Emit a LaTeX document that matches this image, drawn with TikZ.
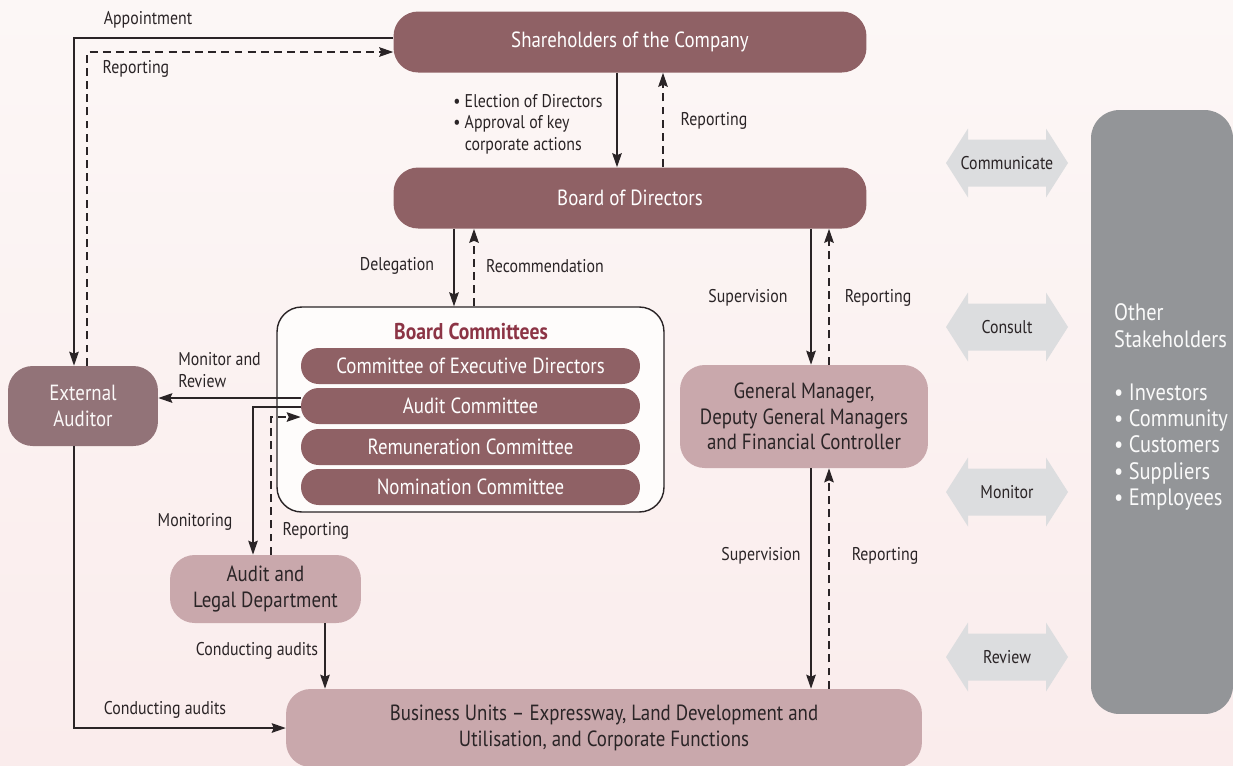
\documentclass[tikz,border=0pt]{standalone}
\usepackage{fontspec}
\setmainfont{PT Sans}[FakeStretch=0.86]
\usetikzlibrary{arrows.meta}
\definecolor{maroon}{HTML}{8F6165}
\definecolor{auditor}{HTML}{927378}
\definecolor{rose}{HTML}{C9A8AC}
\definecolor{ink}{HTML}{2A2426}
\definecolor{titlered}{HTML}{8C3445}
\definecolor{stake}{HTML}{939598}
\definecolor{pale}{HTML}{DCDDDF}
\definecolor{bgtop}{HTML}{FCF7F6}
\definecolor{bgbot}{HTML}{FAECEC}
\newcommand{\mainsize}{\fontsize{12.5}{14.5}\selectfont}
\newcommand{\lblsize}{\fontsize{10.5}{12.2}\selectfont}
\begin{document}
\begin{tikzpicture}[x=0.02cm, y=-0.02cm,
    darkbox/.style={rounded corners=14pt, inner sep=0pt, align=center, font=\mainsize, fill=maroon, text=white},
    lightbox/.style={rounded corners=14pt, inner sep=0pt, align=center, font=\mainsize, fill=rose, text=ink},
    combar/.style={rounded corners=10pt, inner sep=0pt, fill=maroon, text=white, font=\mainsize,
                   minimum width=6.78cm, minimum height=0.72cm},
    lbl/.style={font=\lblsize, text=ink, inner sep=0pt, align=left},
    arr/.style={draw=ink, line width=0.65pt, -{Stealth[length=8pt,width=5.5pt,inset=1.2pt]}},
    rep/.style={arr, dash pattern=on 4.5pt off 3pt}]
  \shade[top color=bgtop, bottom color=bgbot] (0,0) rectangle (1233,765);
  \useasboundingbox (0,0) rectangle (1233,765);
  % boxes
  \node[darkbox, minimum width=9.46cm, minimum height=1.22cm] (share) at (630,42) {Shareholders of the Company};
  \node[darkbox, minimum width=9.46cm, minimum height=1.22cm] (board) at (630,198) {Board of Directors};
  \node[draw=ink, line width=0.8pt, fill=white!60!bgtop, rounded corners=14pt,
        minimum width=7.74cm, minimum height=4.1cm] (comm) at (470.5,409.5) {};
  \node[font=\fontsize{13}{15}\selectfont\bfseries, text=titlered] (commtitle) at (471,331) {Board Committees};
  \node[combar] (exec) at (470.5,366) {Committee of Executive Directors};
  \node[combar] (audit) at (470.5,406) {Audit Committee};
  \node[combar] (remu) at (470.5,447) {Remuneration Committee};
  \node[combar] (nomi) at (470.5,487) {Nomination Committee};
  \node[darkbox, fill=auditor, text=white!92!rose, minimum width=3cm, minimum height=1.6cm] (ext) at (83,406) {External\\Auditor};
  \node[lightbox, minimum width=4.96cm, minimum height=2.06cm] (gm) at (804,416.5)
       {General Manager,\\Deputy General Managers\\and Financial Controller};
  \node[lightbox, minimum width=3.82cm, minimum height=1.36cm] (legal) at (265.5,589) {Audit and\\Legal Department};
  \node[lightbox, minimum width=12.72cm, minimum height=1.56cm] (bu) at (604,728)
       {Business Units -- Expressway, Land Development and\\Utilisation, and Corporate Functions};
  \node[rounded corners=16pt, fill=stake, minimum width=2.84cm, minimum height=12.08cm] (other) at (1162,412) {};
  \node[font=\fontsize{13.5}{15.2}\selectfont, text=white!95!stake, align=left, anchor=west] (othername) at (1108,326)
       {Other\\Stakeholders};
  \node[font=\fontsize{13.5}{15}\selectfont, text=white!95!stake, align=left, anchor=west] (otherlist) at (1108,447)
       {\textbullet\ Investors\\\textbullet\ Community\\\textbullet\ Customers\\\textbullet\ Suppliers\\\textbullet\ Employees};
  % two-way arrows
  \foreach \yy/\txt/\nm in {163/Communicate/talk, 327/Consult/consult, 492/Monitor/monitor, 657/Review/review}{
    \fill[pale] (946,\yy) -- (968,\yy-34.5) -- (968,\yy-23.5) -- (1046,\yy-23.5) -- (1046,\yy-34.5)
                -- (1068,\yy) -- (1046,\yy+34.5) -- (1046,\yy+23.5) -- (968,\yy+23.5) -- (968,\yy+34.5) -- cycle;
    \node[lbl] (\nm) at (1007,\yy) {\txt};
  }
  % connectors
  \draw[arr] (share.west |- 0,38) -| (ext.north -| 74,0);
  \draw[rep] (ext.north -| 87,0) |- (share.west |- 0,52);
  \draw[arr] (share.south -| 617,0) -- (board.north -| 617,0);
  \draw[rep] (board.north -| 663,0) -- (share.south -| 663,0);
  \draw[arr] (board.south -| 454,0) -- (comm.north -| 454,0);
  \draw[rep] (comm.north -| 474,0) -- (board.south -| 474,0);
  \draw[arr] (board.south -| 811,0) -- (gm.north -| 811,0);
  \draw[rep] (gm.north -| 829,0) -- (board.south -| 829,0);
  \draw[arr] (gm.south -| 811,0) -- (bu.north -| 811,0);
  \draw[rep] (bu.north -| 829,0) -- (gm.south -| 829,0);
  \draw[arr] (audit.west |- 0,398) -- (ext.east |- 0,398);
  \draw[arr] (audit.west |- 0,407) -| (legal.north -| 253,0);
  \draw[rep] (legal.north -| 271,0) |- (audit.west |- 0,417);
  \draw[arr] (legal.south -| 325,0) -- (bu.north -| 325,0);
  \draw[arr] (ext.south -| 74,0) |- (bu.west |- 0,728);
  % labels
  \node[lbl] (appoint) at (148,20) {Appointment};
  \node[lbl] (repA) at (136,69) {Reporting};
  \node[lbl, anchor=west] (elect) at (453,124)
       {\textbullet\ Election of Directors\\\textbullet\ Approval of key\\\hphantom{\textbullet\ }corporate actions};
  \node[lbl] (repB) at (714,121) {Reporting};
  \node[lbl] (deleg) at (397,266) {Delegation};
  \node[lbl] (recom) at (545,266) {Recommendation};
  \node[lbl] (supA) at (748,298) {Supervision};
  \node[lbl] (repC) at (878,298) {Reporting};
  \node[lbl, anchor=west] (monrev) at (178,370) {Monitor and\\Review};
  \node[lbl] (monit) at (195,522) {Monitoring};
  \node[lbl] (repD) at (316,531) {Reporting};
  \node[lbl] (condA) at (257,651) {Conducting audits};
  \node[lbl] (condB) at (165,710) {Conducting audits};
  \node[lbl] (supB) at (761,556) {Supervision};
  \node[lbl] (repE) at (885,556) {Reporting};
\end{tikzpicture}
\end{document}
